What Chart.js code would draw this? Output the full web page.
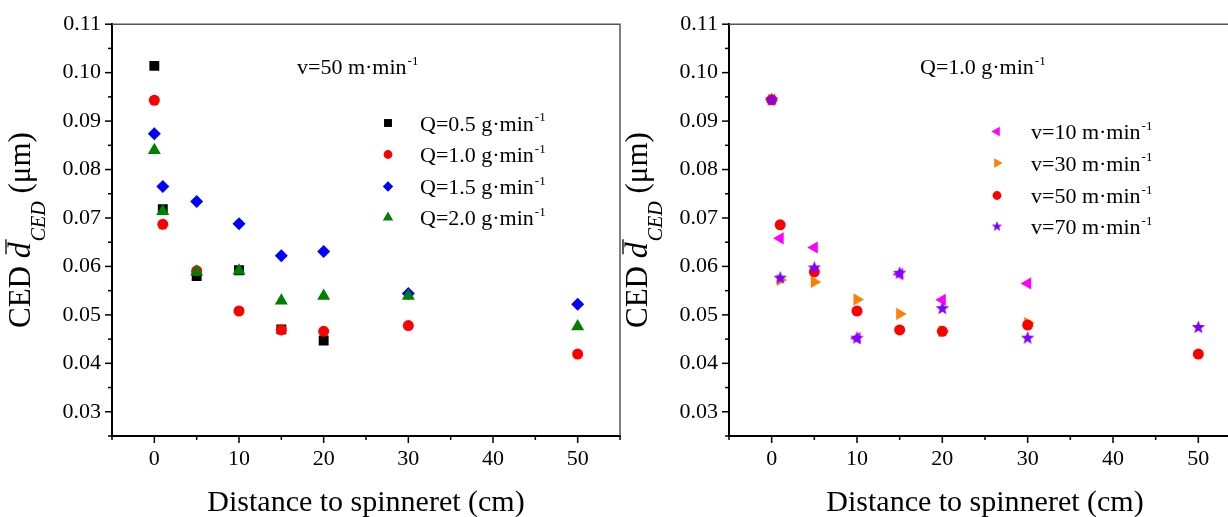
<!DOCTYPE html>
<html>
<head>
<meta charset="utf-8">
<script src="https://cdn.jsdelivr.net/npm/chart.js@4.4.1/dist/chart.umd.min.js"></script>
<style>
    html, body { margin: 0; padding: 0; background: #ffffff; overflow: hidden; }
    #wrap { position: relative; width: 1228px; height: 517px; overflow: hidden; }
    canvas { position: absolute; top: 0; }
</style>
</head>
<body>
<div id="wrap">
    <canvas id="leftChart" width="630" height="517" style="left:0px"></canvas>
    <canvas id="rightChart" width="640" height="517" style="left:614px"></canvas>
</div>
<script>
// CED 平均粒徑 vs 噴絲頭距離：左圖固定 v=50，比較不同流量 Q；右圖固定 Q=1.0，比較不同速度 v
const DISTANCE_CM = [0, 1, 5, 10, 15, 20, 30, 50];

// 左圖（v=50 m/min），null 表示該距離沒有資料點
const CED_Q05 = [0.1014, 0.0718, 0.0580, 0.0592, 0.0470, 0.0447, null, null];
const CED_Q10 = [0.0943, 0.0687, 0.0591, 0.0508, 0.0469, 0.0466, 0.0478, 0.0419];
const CED_Q15 = [0.0874, 0.0765, 0.0734, 0.0688, 0.0622, 0.0631, 0.0544, 0.0522];
const CED_Q20 = [0.0840, 0.0714, 0.0589, 0.0591, 0.0529, 0.0539, 0.0539, 0.0476];

// 右圖（Q=1.0 g/min）
const CED_V10 = [0.0944, 0.0658, 0.0639, 0.0452, 0.0584, 0.0531, 0.0565, null];
const CED_V30 = [0.0944, 0.0572, 0.0568, 0.0532, 0.0502, 0.0466, 0.0483, null];
const CED_V50 = [0.0944, 0.0686, 0.0589, 0.0508, 0.0469, 0.0466, 0.0479, 0.0419];
const CED_V70 = [0.0944, 0.0576, 0.0597, 0.0452, 0.0586, 0.0513, 0.0452, 0.0474];

const X_TICK_LABELS = ["0", "10", "20", "30", "40", "50"];
const Y_TICK_LABELS = ["0.03", "0.04", "0.05", "0.06", "0.07", "0.08", "0.09", "0.10", "0.11"];

const SERIF = "'Liberation Serif', 'Times New Roman', serif";
Chart.defaults.font.family = SERIF;
Chart.defaults.color = "#000000";

function makeStar(color, size) {
    const c = document.createElement("canvas");
    c.width = size;
    c.height = size;
    const g = c.getContext("2d");
    const cx = size / 2, cy = size / 2, outer = size / 2 - 0.5, inner = outer * 0.42;
    g.beginPath();
    for (let i = 0; i < 10; i++) {
        const a = -Math.PI / 2 + i * Math.PI / 5;
        const r = i % 2 === 0 ? outer : inner;
        g.lineTo(cx + r * Math.cos(a), cy + r * Math.sin(a));
    }
    g.closePath();
    g.fillStyle = color;
    g.fill();
    return c;
}

const LEFT_SERIES = [
    { label: "Q=0.5 g·min", values: CED_Q05, color: "#000000", style: "rect", radius: 7, rotation: 0 },
    { label: "Q=1.0 g·min", values: CED_Q10, color: "#ff0000", style: "circle", radius: 5.5, rotation: 0 },
    { label: "Q=1.5 g·min", values: CED_Q15, color: "#0000ff", style: "rectRot", radius: 6.5, rotation: 0 },
    { label: "Q=2.0 g·min", values: CED_Q20, color: "#008000", style: "triangle", radius: 7.5, rotation: 0 }
];

const RIGHT_SERIES = [
    { label: "v=10 m·min", values: CED_V10, color: "#ff00ff", style: "triangle", radius: 7, rotation: 270 },
    { label: "v=30 m·min", values: CED_V30, color: "#ff8000", style: "triangle", radius: 7, rotation: 90 },
    { label: "v=50 m·min", values: CED_V50, color: "#ff0000", style: "circle", radius: 5.5, rotation: 0 },
    { label: "v=70 m·min", values: CED_V70, color: "#8000ff", style: makeStar("#8000ff", 15), legendStyle: makeStar("#8000ff", 12), radius: 7, rotation: 0 }
];

function toPoints(values) {
    return DISTANCE_CM
        .map((x, i) => ({ x: x, y: values[i] }))
        .filter((p) => p.y !== null);
}

// 文字後面接一個上標 "-1"
function drawWithSup(ctx, text, sup, x, y, size) {
    ctx.font = `${size}px ${SERIF}`;
    ctx.textAlign = "left";
    ctx.textBaseline = "alphabetic";
    ctx.fillText(text, x, y);
    const w = ctx.measureText(text).width;
    ctx.font = `${Math.round(size * 0.6)}px ${SERIF}`;
    ctx.fillText(sup, x + w + 1, y - size * 0.42);
}

function drawYTitle(ctx, baseX, startY) {
    ctx.save();
    ctx.translate(baseX, startY);
    ctx.rotate(-Math.PI / 2);
    ctx.fillStyle = "#000";
    ctx.textAlign = "left";
    ctx.textBaseline = "alphabetic";
    let x = 0;
    ctx.font = `31px ${SERIF}`;
    ctx.fillText("CED ", x, 0);
    x += ctx.measureText("CED ").width;
    ctx.font = `italic 32px ${SERIF}`;
    ctx.fillText("d", x, 0);
    const dw = ctx.measureText("d").width;
    ctx.strokeStyle = "#000";
    ctx.lineWidth = 1.3;
    ctx.beginPath();
    ctx.moveTo(x + 4, -24);
    ctx.lineTo(x + dw + 3, -24);
    ctx.stroke();
    x += dw;
    ctx.font = `italic 20px ${SERIF}`;
    ctx.fillText("CED", x + 1, 15);
    x += ctx.measureText("CED").width + 1;
    ctx.font = `31px ${SERIF}`;
    ctx.fillText(" (μm)", x, 0);
    ctx.restore();
}

function makeDecorPlugin(cfg) {
    return {
        id: "panelDecor",
        afterDraw(chart) {
            const ctx = chart.ctx;
            const area = chart.chartArea;
            ctx.save();

            // 上框線與右框線（無刻度）
            ctx.strokeStyle = "#555555";
            ctx.lineWidth = 1.5;
            ctx.beginPath();
            ctx.moveTo(area.left, area.top);
            ctx.lineTo(area.right, area.top);
            ctx.lineTo(area.right, area.bottom);
            ctx.stroke();

            // 手動畫刻度：主刻度長、次刻度短
            ctx.strokeStyle = "#000000";
            ctx.lineWidth = 1.5;
            const xs = chart.scales.x;
            xs.ticks.forEach((t) => {
                const px = xs.getPixelForValue(t.value);
                const len = Math.round(t.value) % 10 === 0 ? 7 : 4;
                ctx.beginPath();
                ctx.moveTo(px, area.bottom);
                ctx.lineTo(px, area.bottom + len);
                ctx.stroke();
            });
            const ys = chart.scales.y;
            ys.ticks.forEach((t) => {
                const py = ys.getPixelForValue(t.value);
                const len = Math.round(t.value * 1000) % 10 === 0 ? 7 : 4;
                ctx.beginPath();
                ctx.moveTo(area.left - len, py);
                ctx.lineTo(area.left, py);
                ctx.stroke();
            });

            ctx.fillStyle = "#000000";
            drawYTitle(ctx, cfg.yTitleX, 328);

            ctx.font = `30px ${SERIF}`;
            ctx.textAlign = "center";
            ctx.textBaseline = "alphabetic";
            ctx.fillText("Distance to spinneret (cm)", (area.left + area.right) / 2, 511);

            drawWithSup(ctx, cfg.note, "-1", cfg.noteX, 74, 22);

            cfg.series.forEach((s, i) => {
                const y = cfg.legendY[i];
                ctx.fillStyle = s.color;
                Chart.helpers.drawPoint(ctx, {
                    pointStyle: s.legendStyle || s.style,
                    radius: s.radius * 0.8,
                    rotation: s.rotation,
                    borderWidth: 0
                }, cfg.legendMarkerX, y);
                ctx.fillStyle = "#000000";
                drawWithSup(ctx, s.label, "-1", cfg.legendTextX, y + 7.5, 22);
            });
            ctx.restore();
        }
    };
}

function buildChart(canvasId, series, cfg) {
    return new Chart(document.getElementById(canvasId), {
        type: "scatter",
        data: {
            datasets: series.map((s, i) => ({
                label: s.label,
                data: toPoints(s.values),
                order: series.length - i,
                pointStyle: s.style,
                pointRadius: s.radius,
                pointHoverRadius: s.radius,
                pointRotation: s.rotation,
                backgroundColor: s.color,
                borderColor: s.color,
                pointBorderWidth: 0
            }))
        },
        options: {
            responsive: false,
            animation: false,
            devicePixelRatio: 1,
            layout: { padding: { left: 0, top: 22, right: cfg.padRight, bottom: 0 } },
            plugins: {
                legend: { display: false },
                tooltip: { enabled: false }
            },
            scales: {
                x: {
                    type: "linear",
                    min: -5,
                    max: 55,
                    afterFit: (s) => { s.height = 81; },
                    border: { color: "#000000", width: 2 },
                    grid: { drawOnChartArea: false, drawTicks: false },
                    ticks: {
                        stepSize: 5,
                        autoSkip: false,
                        maxRotation: 0,
                        padding: 10,
                        color: "#000000",
                        font: { size: 22 },
                        callback: (v) => (X_TICK_LABELS.includes(String(v)) ? String(v) : "")
                    }
                },
                y: {
                    type: "linear",
                    min: 0.025,
                    max: 0.11,
                    afterFit: (s) => { s.width = cfg.axisWidth; },
                    border: { color: "#000000", width: 2 },
                    grid: { drawOnChartArea: false, drawTicks: false },
                    ticks: {
                        stepSize: 0.005,
                        autoSkip: false,
                        padding: 11,
                        color: "#000000",
                        font: { size: 22 },
                        callback: (v) => {
                            const label = Number(v).toFixed(2);
                            const isMajor = Math.round(v * 1000) % 10 === 0;
                            return isMajor && Y_TICK_LABELS.includes(label) ? label : "";
                        }
                    }
                }
            }
        },
        plugins: [makeDecorPlugin(Object.assign({ series: series }, cfg))]
    });
}

buildChart("leftChart", LEFT_SERIES, {
    padRight: 7,
    axisWidth: 112,
    yTitleX: 30,
    note: "v=50 m·min",
    noteX: 297,
    legendMarkerX: 388,
    legendTextX: 420,
    legendY: [123, 154.5, 186.5, 217.5]
});

buildChart("rightChart", RIGHT_SERIES, {
    padRight: 13,
    axisWidth: 115,
    yTitleX: 33,
    note: "Q=1.0 g·min",
    noteX: 920 - 614,
    legendMarkerX: 997 - 614,
    legendTextX: 1031 - 614,
    legendY: [131.5, 163, 195.5, 226.5]
});
</script>
</body>
</html>
